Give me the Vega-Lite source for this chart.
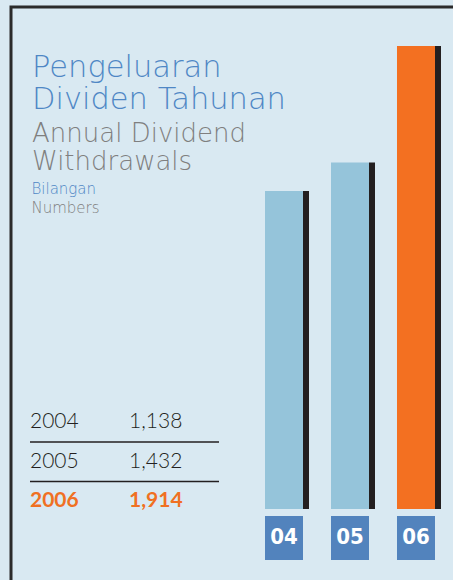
{
  "$schema": "https://vega.github.io/schema/vega-lite/v6.json",
  "width": 444,
  "height": 575,
  "autosize": {"type": "none"},
  "padding": {"left": 11, "top": 7, "right": -2, "bottom": -2},
  "background": "#d9e9f2",
  "config": {"view": {"stroke": "#2b2b2b", "strokeWidth": 3, "fill": "#d9e9f2"}},
  "title": {
    "text": ["Pengeluaran", "Dividen Tahunan"],
    "subtitle": ["Annual Dividend", "Withdrawals"],
    "anchor": "start",
    "frame": "group",
    "orient": "top",
    "offset": -168,
    "dx": 21,
    "font": "DejaVu Sans",
    "fontWeight": 200,
    "fontSize": 30.5,
    "lineHeight": 32,
    "color": "#4f87c5",
    "subtitleFont": "DejaVu Sans",
    "subtitleFontWeight": 200,
    "subtitleFontSize": 26,
    "subtitleLineHeight": 28,
    "subtitleColor": "#7f7f7f",
    "subtitlePadding": 6
  },
  "data": {
    "values": [
      {"year": "2004", "label": "04", "value": 1138},
      {"year": "2005", "label": "05", "value": 1432},
      {"year": "2006", "label": "06", "value": 1914}
    ]
  },
  "resolve": {"scale": {"x": "independent", "y": "independent"}, "axis": {"x": "independent", "y": "independent"}},
  "layer": [
    {
      "layer": [
        {
          "mark": {"type": "bar", "color": "#231f20", "width": 6, "xOffset": 22},
          "encoding": {
            "x": {"field": "label", "type": "nominal", "scale": {"type": "band", "domain": ["04", "05", "06"], "range": [240, 438], "paddingInner": 0.4242, "paddingOuter": 0.2121}, "axis": null},
            "y": {"field": "value", "type": "quantitative", "scale": {"type": "pow", "exponent": 4.4, "domain": [-2206.4, 2026.4], "range": [502, -7], "zero": false, "nice": false}, "axis": null},
            "y2": {"datum": -2206.4}
          }
        },
        {
          "mark": {"type": "bar"},
          "encoding": {
            "x": {"field": "label", "type": "nominal"},
            "y": {"field": "value", "type": "quantitative"},
            "y2": {"datum": -2206.4},
            "color": {"condition": {"test": "datum.label === '06'", "value": "#f37021"}, "value": "#95c4da"}
          }
        }
      ]
    },
    {
      "layer": [
        {
          "mark": {"type": "bar", "color": "#5283bd"},
          "encoding": {
            "x": {"field": "label", "type": "nominal", "scale": {"type": "band", "domain": ["04", "05", "06"], "range": [240, 438], "paddingInner": 0.4242, "paddingOuter": 0.2121}, "axis": null},
            "y": {"datum": 1, "type": "quantitative", "scale": {"domain": [0, 1], "range": [553, 509], "zero": false, "nice": false}, "axis": null},
            "y2": {"datum": 0}
          }
        },
        {
          "mark": {"type": "text", "color": "#ffffff", "font": "DejaVu Sans Condensed", "fontWeight": "bold", "fontSize": 22, "baseline": "middle", "dy": -1},
          "encoding": {
            "x": {"field": "label", "type": "nominal"},
            "y": {"datum": 0.5, "type": "quantitative"},
            "text": {"field": "label"}
          }
        }
      ]
    },
    {
      "layer": [
        {
          "transform": [{"filter": "datum.year !== '2006'"}],
          "mark": {"type": "text", "align": "left", "baseline": "alphabetic", "font": "Lato", "fontWeight": 300, "fontSize": 21, "color": "#231f20"},
          "encoding": {
            "x": {"datum": "year", "type": "nominal", "scale": {"type": "point", "domain": ["year", "value", "end"], "range": [19, 208], "padding": 0},
              "axis": {"orient": "top", "domain": false, "ticks": false, "labels": false, "grid": false, "title": "Numbers", "titleColor": "#7f7f7f", "titleFont": "DejaVu Sans", "titleFontWeight": 200, "titleFontSize": 15, "titleAngle": 0, "titleAlign": "left", "titleBaseline": "alphabetic", "titleX": 20, "titleY": 205}},
            "y": {"field": "year", "type": "ordinal", "scale": {"type": "point", "domain": ["2004", "2005", "2006"], "range": [421, 500], "padding": 0},
              "axis": {"orient": "left", "domain": false, "ticks": false, "labels": false, "grid": false, "title": "Bilangan", "titleColor": "#4f87c5", "titleFont": "DejaVu Sans", "titleFontWeight": 200, "titleFontSize": 15, "titleAngle": 0, "titleAlign": "left", "titleBaseline": "alphabetic", "titleX": 20, "titleY": 186}},
            "text": {"field": "year"}
          }
        },
        {
          "transform": [{"filter": "datum.year !== '2006'"}],
          "mark": {"type": "text", "align": "left", "baseline": "alphabetic", "font": "Lato", "fontWeight": 300, "fontSize": 21, "color": "#231f20", "dx": 4.5},
          "encoding": {
            "x": {"datum": "value", "type": "nominal"},
            "y": {"field": "year", "type": "ordinal"},
            "text": {"field": "value", "type": "quantitative", "format": ","}
          }
        },
        {
          "transform": [{"filter": "datum.year === '2006'"}],
          "mark": {"type": "text", "align": "left", "baseline": "alphabetic", "font": "Lato", "fontWeight": "bold", "fontSize": 21, "color": "#f07022"},
          "encoding": {
            "x": {"datum": "year", "type": "nominal"},
            "y": {"field": "year", "type": "ordinal"},
            "text": {"field": "year"}
          }
        },
        {
          "transform": [{"filter": "datum.year === '2006'"}],
          "mark": {"type": "text", "align": "left", "baseline": "alphabetic", "font": "Lato", "fontWeight": "bold", "fontSize": 21, "color": "#f07022", "dx": 4.5},
          "encoding": {
            "x": {"datum": "value", "type": "nominal"},
            "y": {"field": "year", "type": "ordinal"},
            "text": {"field": "value", "type": "quantitative", "format": ","}
          }
        },
        {
          "transform": [{"filter": "datum.year !== '2006'"}],
          "mark": {"type": "rule", "color": "#231f20", "strokeWidth": 1.3, "yOffset": 14},
          "encoding": {
            "x": {"datum": "year", "type": "nominal"},
            "x2": {"datum": "end"},
            "y": {"field": "year", "type": "ordinal"}
          }
        }
      ]
    }
  ]
}
